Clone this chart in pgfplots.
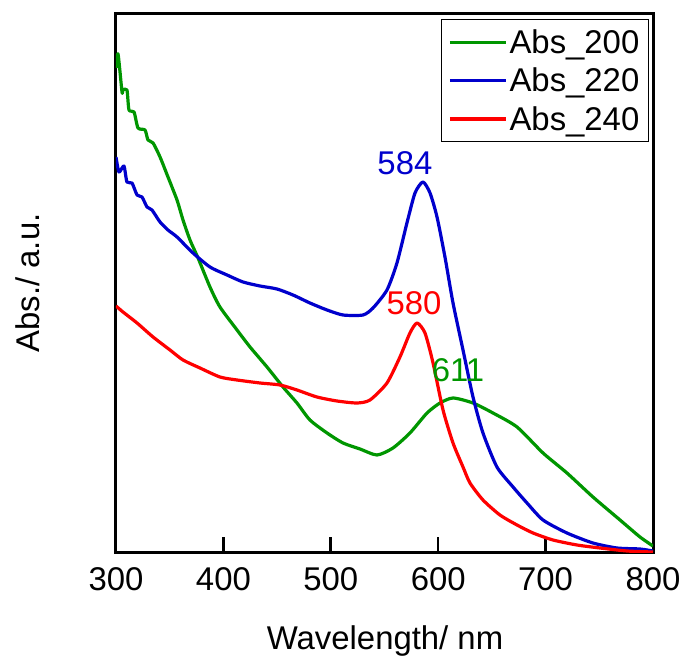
\documentclass[border=0pt]{standalone}
\usepackage{fontspec}
\setmainfont{Liberation Sans}
\usepackage{pgfplots}
\pgfplotsset{compat=1.18}
\definecolor{cgreen}{HTML}{009600}
\definecolor{cblue}{HTML}{0000CC}
\definecolor{cred}{HTML}{FF0000}
\newcommand{\fs}{\fontsize{33}{40}\selectfont}

\begin{document}
\begin{tikzpicture}
\begin{axis}[
  name=ax,
  scale only axis,
  width=537bp, height=538bp,
  xmin=300, xmax=800,
  ymin=0, ymax=538,
  xtick={300,400,500,600,700,800},
  ytick=\empty,
  xtick pos=bottom,
  tick align=inside,
  major tick length=15bp,
  every tick/.style={black, line width=2.6bp},
  axis line style={line width=3bp},
  /pgf/number format/assume math mode=true,
  /pgf/number format/1000 sep={},
  tick label style={font=\fs},
  every x tick label/.append style={anchor=base, yshift=-38bp},
  xlabel={Wavelength/ nm},
  ylabel={Abs./ a.u.},
  label style={font=\fs},
  xlabel style={at={(axis description cs:0.501,-0.182)}, anchor=base},
  ylabel style={at={(axis description cs:-0.164,0.5)}, anchor=center},
  legend style={at={(axis description cs:0.9926,0.9907)}, anchor=north east,
    draw=black, line width=1.4bp, font=\fs, inner xsep=7bp, inner ysep=8bp,
    row sep=9bp, cells={anchor=west},
    /tikz/every even column/.append style={column sep=12bp}},
  legend image code/.code={\draw[#1, line width=3.2bp] (0bp,0bp) -- (56bp,0bp);},
  clip=true,
]

% Abs_200
\addplot[cgreen, line width=3.2bp, line join=round, smooth, tension=0.4] coordinates {
(300.0,484) (301.9,498) (305.6,460) (306.5,462) (310.2,462) (312.1,442)
(316.8,440) (320.5,424) (327.0,422) (329.8,412) (334.5,409) (341.0,395)
(348.4,375) (356.8,352) (362.4,332) (368.9,312) (376.4,294) (387.5,265)
(396.8,245) (412.7,222) (424.8,205) (440.6,185) (455.5,165) (468.5,149)
(480.6,132) (496.5,119) (511.4,109) (527.2,103) (543.0,97) (557.9,104)
(573.7,119) (589.6,139) (601.7,149) (613.8,154) (632.4,149) (651.0,139)
(673.4,125) (697.6,99) (719.9,79) (744.1,55) (769.3,32) (787.9,15) (800.0,6)
};
\addlegendentry{Abs\_200}

% Abs_220
\addplot[cblue, line width=3.2bp, line join=round, smooth, tension=0.4] coordinates {
(300.0,395) (302.8,380) (307.4,386) (310.2,370) (314.9,369) (319.6,357)
(324.2,355) (328.9,345) (333.5,342) (341.0,330) (348.4,322) (356.8,315)
(371.7,299) (387.5,285) (403.4,277) (418.3,270) (434.1,266) (449.9,263)
(464.8,257) (480.6,249) (496.5,242) (511.4,237) (530.0,237) (539.3,244)
(552.3,262) (561.6,289) (570.9,329) (578.4,359) (585.8,370) (592.4,359)
(598.9,335) (606.3,295) (613.8,249) (623.1,202) (632.4,155) (641.7,119)
(654.7,85) (669.7,65) (682.7,49) (697.6,32) (719.9,19) (744.1,9)
(766.5,4) (787.9,3) (800.0,1)
};
\addlegendentry{Abs\_220}

% Abs_240
\addplot[cred, line width=3.2bp, line join=round, smooth, tension=0.4] coordinates {
(300.0,246) (306.5,240) (319.6,229) (334.5,215) (350.3,202) (362.4,192)
(378.2,184) (396.8,175) (412.7,172) (434.1,169) (452.7,167) (468.5,162)
(487.1,155) (505.8,151) (524.4,149) (536.5,152) (552.3,169) (564.4,195)
(573.7,219) (580.3,229) (587.7,219) (595.2,189) (604.5,142) (613.8,109)
(623.1,85) (629.6,69) (641.7,52) (657.5,37) (673.4,27) (688.3,19)
(706.9,12) (729.2,7) (750.6,4) (775.8,1) (800.0,0)
};
\addlegendentry{Abs\_240}

\node[font=\fs, text=cblue] at (axis cs:569,389) {584};
\node[font=\fs, text=cred] at (axis cs:577.5,249) {580};
\node[font=\fs, text=cgreen] at (axis cs:618.5,182) {611};
\end{axis}
\path (ax.south west) ++(-116bp,-109bp) rectangle ++(687bp,661bp);
\end{tikzpicture}
\end{document}
